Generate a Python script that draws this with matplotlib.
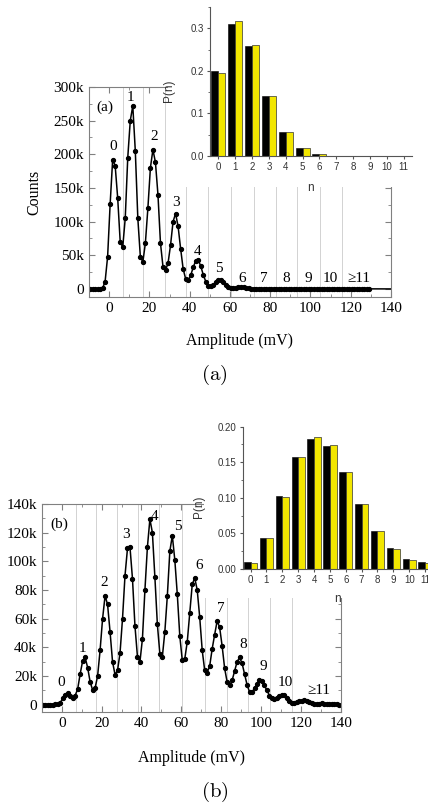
import numpy as np
import matplotlib
matplotlib.use('Agg')
import matplotlib.pyplot as plt
from matplotlib.patches import Rectangle
from matplotlib.ticker import MultipleLocator, FuncFormatter

# amplitude bins (mV)
amp_mv = [-9.5, -8.25, -7.0, -5.75, -4.5, -3.25, -2.0, -0.75, 0.5, 1.75,
          3.0, 4.25, 5.5, 6.75, 8.0, 9.25, 10.5, 11.75, 13.0, 14.25,
          15.5, 16.75, 18.0, 19.25, 20.5, 21.75, 23.0, 24.25, 25.5, 26.75,
          28.0, 29.25, 30.5, 31.75, 33.0, 34.25, 35.5, 36.75, 38.0, 39.25,
          40.5, 41.75, 43.0, 44.25, 45.5, 46.75, 48.0, 49.25, 50.5, 51.75,
          53.0, 54.25, 55.5, 56.75, 58.0, 59.25, 60.5, 61.75, 63.0, 64.25,
          65.5, 66.75, 68.0, 69.25, 70.5, 71.75, 73.0, 74.25, 75.5, 76.75,
          78.0, 79.25, 80.5, 81.75, 83.0, 84.25, 85.5, 86.75, 88.0, 89.25,
          90.5, 91.75, 93.0, 94.25, 95.5, 96.75, 98.0, 99.25, 100.5, 101.75,
          103.0, 104.25, 105.5, 106.75, 108.0, 109.25, 110.5, 111.75, 113.0, 114.25,
          115.5, 116.75, 118.0, 119.25, 120.5, 121.75, 123.0, 124.25, 125.5, 126.75,
          128.0, 129.25, 130.5, 131.75, 133.0, 134.25, 135.5, 136.75, 138.0, 139.25]

# counts in thousands, panel (a)
counts_a = [0, 0, 0, 0, 0, 1, 11, 48, 126, 192,
            183, 135, 70, 62, 105, 195, 250, 272, 205, 105,
            48, 40, 68, 120, 180, 207, 188, 140, 68, 33,
            28, 38, 65, 100, 112, 93, 60, 30, 15, 13,
            20, 32, 42, 43, 34, 21, 11, 5, 4, 6,
            10, 13.5, 13, 10, 5.5, 2.5, 1.2, 1.2, 2, 3,
            3.3, 3, 2, 1, 0.5, 0.4, 0.4, 0.3, 0.3, 0.3,
            0.3, 0.3, 0.3, 0.3, 0.3, 0.3, 0.3, 0.3, 0.2, 0.2,
            0.2, 0.2, 0.2, 0.2, 0.2, 0.2, 0.2, 0.2, 0.2, 0.2,
            0.2, 0.1, 0.1, 0.1, 0.1, 0.1, 0.1, 0.1, 0.1, 0.1,
            0.1, 0.1, 0.1, 0.1, 0.1, 0.1, 0.1, 0.1, 0.1, 0.1,
            0.1, 0.1]
tail_a = (140, 0)   # the line runs on to the frame without markers

# counts in thousands, panel (b)
counts_b = [0.2, 0.2, 0.2, 0.2, 0.2, 0.3, 0.5, 1.5, 4.5, 7.0,
            8.0, 6.5, 4.8, 6.5, 11, 21.5, 30.6, 33, 26, 16,
            10.4, 11.8, 20, 38, 60, 76, 70, 51, 30, 21,
            24, 36, 60, 90, 109, 110, 88, 55, 33.6, 30,
            46, 80, 110, 129.5, 120, 89, 56, 35.5, 33.6, 51,
            76, 107, 118, 101, 77, 48, 31, 32, 44, 64,
            84, 88.5, 80, 61, 38, 24, 22.5, 27, 39, 49,
            58.5, 54, 41, 25.5, 16, 13.5, 17, 23.5, 30, 33,
            29, 21.5, 14, 9, 8.8, 11.5, 14.5, 17, 16.5, 13.5,
            10, 6.5, 4.8, 4.2, 4.8, 6.0, 7.0, 6.6, 5.0, 3.0,
            1.6, 1.6, 2.0, 2.6, 3.0, 3.1, 2.8, 2.0, 1.3, 0.9,
            0.8, 0.9, 1.0, 0.9, 0.8, 0.6, 0.5, 0.4, 0.3, 0.2]

# peak separators (mV)
sep_mv = [7, 17, 27.5, 38.2, 49, 60.6, 71.9, 83, 93.5, 104.5, 115.5]

# peak labels
peak_txt = ['0', '1', '2', '3', '4', '5', '6', '7', '8', '9', '10', '≥11']
peak_x_a = [2, 10.8, 22.5, 33, 44, 54.6, 66, 76.6, 87.9, 99, 110, 124]
peak_y_a = [211, 285, 226, 128, 56, 31, 16, 16, 16, 16, 16, 16]
peak_x_b = [-0.4, 10.3, 21.2, 32.5, 46.8, 58.5, 69, 79.9, 91.1, 101.2, 112, 128.8]
peak_y_b = [15.5, 39.4, 85, 119, 131.6, 124, 97, 67, 42, 27, 15.5, 9.8]

# photon number distributions
n_vals = [0, 1, 2, 3, 4, 5, 6, 7, 8, 9, 10, 11]
p_meas_a = [0.200, 0.311, 0.258, 0.142, 0.057, 0.019, 0.005, 0.001, 0, 0, 0, 0]
p_fit_a = [0.195, 0.318, 0.260, 0.142, 0.057, 0.018, 0.005, 0.001, 0, 0, 0, 0]
p_meas_b = [0.010, 0.043, 0.102, 0.157, 0.183, 0.173, 0.136, 0.091, 0.053, 0.029, 0.014, 0.010]
p_fit_b = [0.009, 0.043, 0.101, 0.158, 0.185, 0.174, 0.136, 0.091, 0.053, 0.028, 0.013, 0.009]

plt.rcParams['mathtext.fontset'] = 'cm'
W, H = 428, 808
fig = plt.figure(figsize=(W / 100, H / 100), dpi=100)

serif = 'Liberation Serif'
sans = 'Liberation Sans'
frame_col = '#808080'


def fr(x0, y0, x1, y1):
    # pixel box -> figure fraction rect
    return [x0 / W, 1 - y1 / H, (x1 - x0) / W, (y1 - y0) / H]


def kfmt(v, pos):
    return '0' if v == 0 else '%dk' % v


def main_panel(rect, counts, ylim, ymaj, peak_x, peak_y, tag, tag_xy, tail=None):
    ax = fig.add_axes(rect)
    x = np.array(amp_mv[:len(counts)])
    y = np.array(counts)
    for s in sep_mv:
        ax.axvline(s, color='#d2d2d2', lw=0.7, zorder=0)
    if tail is not None:
        ax.plot([x[-1], tail[0]], [y[-1], tail[1]], color='black', lw=1.1)
    ax.plot(x, y, '-o', color='black', lw=1.1, ms=2.8)
    for t, px, py in zip(peak_txt, peak_x, peak_y):
        ax.text(px, py, t, ha='center', va='center', family=serif, fontsize=11)
    ax.text(tag_xy[0], tag_xy[1], tag, ha='center', va='center', family=serif, fontsize=11)
    ax.set_xlim(-10, 140)
    ax.set_ylim(*ylim)
    ax.xaxis.set_major_locator(MultipleLocator(20))
    ax.xaxis.set_minor_locator(MultipleLocator(10))
    ax.yaxis.set_major_locator(MultipleLocator(ymaj))
    ax.yaxis.set_minor_locator(MultipleLocator(ymaj / 2))
    ax.yaxis.set_major_formatter(FuncFormatter(kfmt))
    ax.tick_params(which='both', direction='in', top=True, right=True,
                   color=frame_col, labelsize=11)
    ax.tick_params(which='major', length=4)
    ax.tick_params(which='minor', length=2)
    for lab in ax.get_xticklabels() + ax.get_yticklabels():
        lab.set_family(serif)
    for sp in ax.spines.values():
        sp.set_color(frame_col)
        sp.set_linewidth(0.8)
    return ax


def inset_panel(rect, meas, fit, ylim, ymaj, ylab_xy, xlab_xy, fmt):
    ax = fig.add_axes(rect, zorder=2)
    ax.patch.set_alpha(0)
    n = np.array(n_vals)
    ax.bar(n - 0.21, meas, width=0.42, color='black', edgecolor='black', lw=0.4)
    ax.bar(n + 0.21, fit, width=0.42, color='#f2e600', edgecolor='#333333', lw=0.5)
    ax.set_xlim(-0.5, 11.5)
    ax.set_ylim(*ylim)
    ax.set_xticks(n_vals)
    ax.yaxis.set_major_locator(MultipleLocator(ymaj))
    ax.yaxis.set_minor_locator(MultipleLocator(ymaj / 2))
    ax.yaxis.set_major_formatter(FuncFormatter(lambda v, p: fmt % v))
    ax.spines['top'].set_visible(False)
    ax.spines['right'].set_visible(False)
    for sp in ax.spines.values():
        sp.set_color('#555555')
        sp.set_linewidth(0.8)
    ax.tick_params(which='both', direction='out', color='#555555', labelsize=7,
                   labelcolor='#333333', pad=2)
    ax.tick_params(which='major', length=2.5)
    ax.tick_params(which='minor', length=1.5)
    for lab in ax.get_xticklabels() + ax.get_yticklabels():
        lab.set_family(sans)
    ax.set_ylabel('P(n)', family=sans, fontsize=8.5, color='#333333')
    ax.set_xlabel('n', family=sans, fontsize=8.5, color='#333333')
    ax.yaxis.set_label_coords(*ylab_xy)
    ax.xaxis.set_label_coords(*xlab_xy)
    return ax


# panel (a)
ax_a = main_panel(fr(89, 87, 391, 297), counts_a, (-12, 300), 50,
                  peak_x_a, peak_y_a, '(a)', (-2, 270), tail=tail_a)
ax_a.set_ylabel('Counts', family=serif, fontsize=11.5)
ax_a.yaxis.set_label_coords(-0.156, 0.5)
ax_a.set_xlabel('Amplitude (mV)', family=serif, fontsize=11.5)
ax_a.xaxis.set_label_coords(0.5, -0.171)

fig.patches.append(Rectangle((168 / W, 1 - 187 / H), (W - 168) / W, 187 / H,
                             transform=fig.transFigure, facecolor='white',
                             edgecolor='none', zorder=1))
inset_panel(fr(210, 7, 412, 156), p_meas_a, p_fit_a, (0, 0.35), 0.1,
            (-0.173, 0.44), (0.495, -0.174), '%.1f')

# panel (b)
ax_b = main_panel(fr(41.8, 504, 340.7, 712), counts_b, (-5, 140), 20,
                  peak_x_b, peak_y_b, '(b)', (-1.2, 126))
ax_b.set_xlabel('Amplitude (mV)', family=serif, fontsize=11.5)
ax_b.xaxis.set_label_coords(0.5, -0.183)

fig.patches.append(Rectangle((204 / W, 1 - 598 / H), (W - 204) / W, 183 / H,
                             transform=fig.transFigure, facecolor='white',
                             edgecolor='none', zorder=1))
inset_panel(fr(242.7, 426.7, 433, 569), p_meas_b, p_fit_b, (0, 0.2), 0.05,
            (-0.198, 0.436), (0.50, -0.169), '%.2f')

# captions
fig.text(214 / W, 1 - 375 / H, r'$\mathrm{(a)}$', ha='center', va='center', fontsize=15)
fig.text(215 / W, 1 - 792 / H, r'$\mathrm{(b)}$', ha='center', va='center', fontsize=15)

fig.savefig('out.png', dpi=100)
